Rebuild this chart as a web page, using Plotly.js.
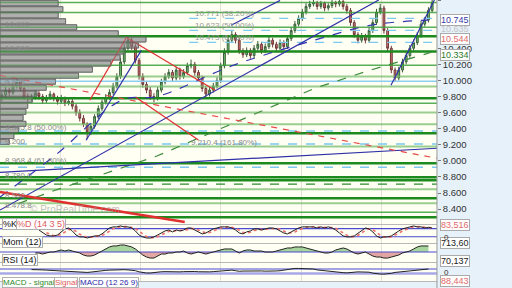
<!DOCTYPE html>
<html><head><meta charset="utf-8">
<script src="https://cdn.plot.ly/plotly-3.0.1.min.js"></script>
<style>html,body{margin:0;padding:0;background:#e6f1fa}#chart{width:512px;height:288px}</style>
</head><body><div id="chart"></div>
<script>
// ---------- price data (candle index 0..116) ----------
const open = [9.78,9.82,9.88,9.85,9.93,9.98,9.90,9.80,9.77,9.79, 9.84,9.80,9.75,9.79,9.83,9.78,9.74,9.78,9.72,9.74, 9.68,9.60,9.53,9.46,9.36,9.43,9.55,9.65,9.73,9.79, 9.85,9.93,10.05,10.23,10.40,10.50,10.42,10.25,10.05,9.95, 9.88,9.80,9.78,9.88,9.98,10.05,10.10,10.03,10.13,10.05, 10.10,10.18,10.20,10.10,10.03,9.90,9.83,9.88,9.93,10.00, 10.18,10.35,10.50,10.57,10.50,10.37,10.32,10.37,10.31,10.40, 10.45,10.37,10.42,10.50,10.45,10.40,10.47,10.42,10.52,10.62, 10.70,10.77,10.85,10.92,10.95,10.97,10.92,10.96,10.90,10.93, 10.97,10.95,10.98,10.92,10.87,10.72,10.57,10.50,10.55,10.50, 10.62,10.72,10.85,10.90,10.62,10.40,10.13,10.03,10.13,10.23, 10.31,10.40,10.47,10.56,10.70,10.75,10.87];
const high = [9.86,9.92,9.91,9.96,10.03,10.00,9.93,9.84,9.83,9.88, 9.87,9.83,9.82,9.87,9.85,9.81,9.82,9.80,9.78,9.77, 9.71,9.64,9.57,9.48,9.47,9.58,9.69,9.76,9.83,9.89, 9.97,10.09,10.28,10.45,10.55,10.53,10.45,10.28,10.09,9.99, 9.92,9.84,9.92,10.02,10.09,10.14,10.13,10.17,10.16,10.14, 10.22,10.26,10.23,10.13,10.06,9.93,9.92,9.97,10.04,10.22, 10.40,10.55,10.62,10.60,10.53,10.40,10.41,10.40,10.44,10.49, 10.48,10.46,10.54,10.53,10.48,10.51,10.50,10.56,10.66,10.74, 10.81,10.89,10.96,10.99,11.00,10.99,10.99,10.98,10.96,11.00, 10.99,11.01,11.00,10.95,10.90,10.75,10.60,10.59,10.58,10.66, 10.76,10.89,10.95,10.93,10.65,10.43,10.16,10.17,10.27,10.35, 10.44,10.51,10.60,10.74,10.79,10.91,11.01];
const low = [9.74,9.78,9.81,9.82,9.90,9.86,9.76,9.73,9.74,9.76, 9.76,9.71,9.72,9.76,9.74,9.70,9.71,9.68,9.69,9.64, 9.56,9.49,9.42,9.27,9.32,9.40,9.52,9.62,9.70,9.76, 9.82,9.90,10.02,10.20,10.37,10.38,10.21,10.01,9.91,9.84, 9.76,9.73,9.75,9.85,9.95,10.02,9.99,10.00,10.01,10.02, 10.07,10.15,10.06,9.99,9.86,9.78,9.80,9.85,9.90,9.97, 10.15,10.32,10.47,10.46,10.33,10.28,10.29,10.27,10.28,10.37, 10.33,10.34,10.39,10.41,10.36,10.37,10.38,10.39,10.49,10.59, 10.67,10.74,10.82,10.89,10.92,10.88,10.89,10.86,10.87,10.90, 10.91,10.92,10.88,10.83,10.68,10.53,10.46,10.47,10.46,10.47, 10.59,10.69,10.82,10.58,10.36,10.09,9.98,10.00,10.10,10.20, 10.28,10.37,10.44,10.53,10.67,10.72,10.84];
const close = [9.82,9.88,9.85,9.93,9.98,9.90,9.80,9.77,9.79,9.84, 9.80,9.75,9.79,9.83,9.78,9.74,9.78,9.72,9.74,9.68, 9.60,9.53,9.46,9.36,9.43,9.55,9.65,9.73,9.79,9.85, 9.93,10.05,10.23,10.40,10.50,10.42,10.25,10.05,9.95,9.88, 9.80,9.78,9.88,9.98,10.05,10.10,10.03,10.13,10.05,10.10, 10.18,10.20,10.10,10.03,9.90,9.83,9.88,9.93,10.00,10.18, 10.35,10.50,10.57,10.50,10.37,10.32,10.37,10.31,10.40,10.45, 10.37,10.42,10.50,10.45,10.40,10.47,10.42,10.52,10.62,10.70, 10.77,10.85,10.92,10.95,10.97,10.92,10.96,10.90,10.93,10.97, 10.95,10.98,10.92,10.87,10.72,10.57,10.50,10.55,10.50,10.62, 10.72,10.85,10.90,10.62,10.40,10.13,10.03,10.13,10.23,10.31, 10.40,10.47,10.56,10.70,10.75,10.87,10.97];

// ---------- indicators ----------
const stochK = [null,null,null,null,null,null,null,null,null,null, 70,48,33,26,26,33,56,78,85,63, 33,19,19,11,19,26,26,41,63,85, 93,93,100,93,93,85,63,33,19,11, 11,19,33,48,63,70,56,70,63,70, 85,85,70,56,41,48,63,78,85,93, 93,93,85,70,48,41,56,63,78,78, 70,78,85,85,78,63,48,41,56,70, 85,93,93,93,93,85,93,85,93,85, 70,48,26,19,19,26,48,70,85,78, 56,26,11,19,19,26,48,63,78,85, 93,100,93,93,85,90,84];
const stochD = [null,null,null,null,null,null,null,null,null,null, null,null,50,36,28,28,38,55,73,75, 60,38,24,16,16,21,24,31,43,63, 80,90,95,95,95,90,80,60,38,21, 14,14,21,33,48,60,63,65,63,68, 73,80,80,70,56,48,51,63,75,85, 90,93,90,83,68,53,48,53,66,73, 75,75,78,83,83,75,63,50,48,56, 70,83,90,93,93,90,90,88,90,88, 83,68,48,31,21,21,31,48,68,78, 73,53,31,19,16,21,31,46,63,76, 85,93,95,95,90,89,86];
const momentum = [null,null,null,null,null,null,null,null,null,-119, -120,-240,-120,0,0,120,240,120,240,120, 0,-120,-360,-480,-480,-360,-120,120,360,600, 720,720,830,830,720,600,360,0,-360,-600, -720,-720,-480,-240,-240,-120,-120,0,0,120, -120,-240,-120,0,-120,-240,-120,0,120,240, 360,360,360,120,-120,120,240,240,120,120, 120,0,0,0,120,240,360,480,480,600, 600,600,480,360,240,120,0,-120,-120,0, 240,360,480,360,120,-120,-240,-120,0,-240, -480,-600,-600,-720,-720,-600,-480,-360,-120,0, 120,360,600,720,720,714,null];
const rsi = [null,null,null,null,null,null,null,null,65,66, 64,62,60,58,56,54,55,53,52,50, 46,44,42,40,43,48,52,55,58,60, 62,64,66,64,62,60,55,45,37,35, 35,40,44,46,47,45,46,44,45,47, 49,50,48,46,44,43,45,47,50,55, 60,62,60,55,50,52,53,52,51,52, 53,51,50,52,53,55,60,68,72,75, 75,74,73,72,70,62,58,55,50,45, 42,40,38,36,40,44,45,44,43,42, 34,28,26,25,26,32,40,44,46,48, 55,60,64,66,68,70,null];

// ---------- volume-by-price profile (left), volume in chart-pixel units ----------
const vpPrice = [10.96,10.885,10.81,10.735,10.66,10.585,10.51,10.435,10.36,10.285,10.21,10.135,10.06,9.985,9.91,9.835,9.76,9.685,9.61,9.535,9.46,9.385,9.31,9.235];
const vpVolume = [63,68,63,71,83,128,158,150,135,130,120,100,85,60,50,40,35,30,28,25,28,20,15,10];

// ---------- horizontal levels ----------
const levelsDark = [10.548,10.36,9.78,9.343,8.97,8.795,8.76,8.535,8.30];
const levelsMedium = [10.97,10.846,10.66,10.19,9.715,8.36];
const levelsLight = [10.05,9.925,9.60,9.455,9.18,8.647,8.473];
const levelsBlueDashed = [9.37,9.21,8.92];
const levelsBlueSolid = [9.99];
const levelsGreenDashed = [8.71];
const fibLevels = [10.771,10.623,10.473];
const fibLabels = ['10.771 (38.20%)','10.623 (50.00%)','10.473 (61.80%)'];
const fibStart = 50.5;

// ---------- trend lines (candle index, price) ----------
const blueLines = [
  {i:[-0.5,117.3], p:[8.858,9.157]},
  {i:[-0.5,101.6], p:[8.388,11.0]},
  {i:[22.7,37.6], p:[9.256,10.374]},
  {i:[61.8,75.0], p:[10.685,10.995]},
  {i:[104.9,116.6], p:[9.94,11.0]}
];
const blueDashedMA = {i:[-0.5,14.4,32.6,41.8,62.5,84.2,99.9,115.0], p:[8.55,9.07,9.76,9.80,10.19,10.50,10.69,10.75]};
const redLines = [
  {i:[23.7,33.6], p:[9.753,10.535]},
  {i:[33.6,57.5], p:[10.535,9.877]},
  {i:[36.1,53.0], p:[9.79,9.26]},
  {i:[-0.5,49.3], p:[8.612,8.239]}
];
const redDashed = [
  {i:[-0.5,117.3], p:[10.063,9.032]}
];
const greenMA = {i:[4.5,14.4,41.8,59.3,76.7,84.2,99.1,115.8], p:[8.47,8.635,9.06,9.405,9.753,9.9,10.125,10.35]};

// ---------- axis labels ----------
const priceTicks = [8.4,8.6,8.8,9.0,9.2,9.4,9.6,9.8,10.0,10.2,10.4,11.0];
const priceTickText = ['8.400','8.600','8.800','9.000','9.200','9.400','9.600','9.800','10.000','10.200','10.400','11.000'];
const monthStarts = [15.7,37.4,59,80.7,102.4];
const lastLabels = [
  {v:10.745, t:'10.745', c:'#3a3aa8', s:1, boxed:true},
  {v:10.635, t:'10.635', c:'#c4c4c4', s:0, boxed:false},
  {v:10.544, t:'10.544', c:'#e06a6a', s:-2, boxed:true},
  {v:10.334, t:'10.334', c:'#2c7a2c', s:-1, boxed:true}
];
const leftLabels = [
  {x:3, p:10.70, t:'10.660'},
  {x:3, p:10.40, t:'10.360'},
  {x:3, p:9.97, t:'9.925'},
  {x:3, p:9.41, t:'9.365.8 (50.00%)'},
  {x:3, p:9.24, t:'9.200'},
  {x:3, p:9.01, t:'8.968.4 (61.80%)'},
  {x:3, p:8.815, t:'8.780.0'},
  {x:3, p:8.575, t:'8.580'},
  {x:3, p:8.45, t:'8.478.8'},
  {x:205, p:9.225, t:'9.210.4 (161.80%)'}
];

const idx = close.map((_, i) => i);
const X0 = -0.5, X1 = 117.3;
const H = 288, W = 512, PW = 473;
const pxPerCandle = PW / (X1 - X0);
const traces = [];
const shapes = [];

// volume profile as horizontal bars on the candle axis, starting at the left edge
traces.push({type:'bar', orientation:'h', y:vpPrice, x:vpVolume.map(v => v / pxPerCandle), base:X0,
  xaxis:'x', yaxis:'y', width:0.064,
  marker:{color:'rgba(186,186,186,0.9)', line:{color:'rgba(112,112,112,0.9)', width:1}}, hoverinfo:'skip'});
// same bins again as translucent shapes drawn above, so the profile stays visible over the chart
const half = 0.032;
vpPrice.forEach((p, k) => shapes.push({type:'rect', xref:'x', yref:'y', x0:X0, x1:X0 + vpVolume[k] / pxPerCandle, y0:p - half, y1:p + half,
  layer:'above', fillcolor:'rgba(150,150,150,0.42)', line:{color:'rgba(100,100,100,0.65)', width:1}}));

function hlines(levels, color, width, dash, x0) {
  const xs = [], ys = [];
  levels.forEach(v => { xs.push(x0 === undefined ? X0 : x0, X1, null); ys.push(v, v, null); });
  traces.push({type:'scatter', mode:'lines', x:xs, y:ys, xaxis:'x', yaxis:'y',
    line:{color:color, width:width, dash:dash||'solid'}, hoverinfo:'skip'});
}
hlines(levelsLight, 'rgba(120,190,110,0.75)', 2);
hlines(levelsMedium, 'rgba(60,160,60,0.85)', 1.5);
hlines(levelsDark, '#1d8a1d', 2.5);
hlines(levelsBlueDashed, '#7cc8f0', 1.5, 'dash');
hlines(levelsBlueSolid, '#8ccdf2', 1.5);
hlines(levelsGreenDashed, '#2a8a2a', 1.2, 'dash');
hlines(fibLevels, '#7cc8f0', 1.3, 'dash', fibStart);

traces.push({type:'scatter', mode:'lines', x:greenMA.i, y:greenMA.p, line:{color:'#3a8a3a', width:1.2, dash:'dash'}, hoverinfo:'skip'});
traces.push({type:'scatter', mode:'lines', x:blueDashedMA.i, y:blueDashedMA.p, line:{color:'#3535b0', width:1.2, dash:'dash', shape:'spline'}, hoverinfo:'skip'});
blueLines.forEach(l => traces.push({type:'scatter', mode:'lines', x:l.i, y:l.p, line:{color:'#3030a8', width:1.2}, hoverinfo:'skip'}));
redLines.forEach((l, k) => traces.push({type:'scatter', mode:'lines', x:l.i, y:l.p, line:{color:'#e03030', width:k===3?2.5:1.2}, hoverinfo:'skip'}));
redDashed.forEach(l => traces.push({type:'scatter', mode:'lines', x:l.i, y:l.p, line:{color:'#e84a4a', width:1.2, dash:'6px,6px'}, hoverinfo:'skip'}));

traces.push({type:'candlestick', x:idx, open:open, high:high, low:low, close:close, xaxis:'x', yaxis:'y',
  whiskerwidth:0,
  increasing:{line:{color:'#3b5e3b', width:1}, fillcolor:'#6fc46f'},
  decreasing:{line:{color:'#6e3b3b', width:1}, fillcolor:'#d86b6b'}, hoverinfo:'skip'});

// indicator panels on x3
traces.push({type:'scatter', mode:'lines', x:[X0,X1], y:[80,80], xaxis:'x3', yaxis:'y2', line:{color:'#4a4ad0', width:1.2}, hoverinfo:'skip'});
traces.push({type:'scatter', mode:'lines', x:[X0,X1], y:[20,20], xaxis:'x3', yaxis:'y2', line:{color:'#4a4ad0', width:1.2}, hoverinfo:'skip'});
traces.push({type:'scatter', mode:'lines', x:idx, y:stochD, xaxis:'x3', yaxis:'y2', line:{color:'#f07070', width:1.6, dash:'dot'}, hoverinfo:'skip'});
traces.push({type:'scatter', mode:'lines', x:idx, y:stochK, xaxis:'x3', yaxis:'y2', line:{color:'#222', width:1}, hoverinfo:'skip'});

const momPos = momentum.map(v => v === null ? null : Math.max(v, 0));
const momNeg = momentum.map(v => v === null ? null : Math.min(v, 0));
traces.push({type:'scatter', mode:'lines', x:idx, y:momPos, xaxis:'x3', yaxis:'y3', fill:'tozeroy', fillcolor:'rgba(120,190,110,0.65)', line:{width:0}, hoverinfo:'skip'});
traces.push({type:'scatter', mode:'lines', x:idx, y:momNeg, xaxis:'x3', yaxis:'y3', fill:'tozeroy', fillcolor:'rgba(210,120,120,0.65)', line:{width:0}, hoverinfo:'skip'});
traces.push({type:'scatter', mode:'lines', x:[X0,X1], y:[0,0], xaxis:'x3', yaxis:'y3', line:{color:'#4a4ad0', width:1.2}, hoverinfo:'skip'});
traces.push({type:'scatter', mode:'lines', x:idx, y:momentum, xaxis:'x3', yaxis:'y3', line:{color:'#222', width:1}, hoverinfo:'skip'});

traces.push({type:'scatter', mode:'lines', x:[X0,X1], y:[70,70], xaxis:'x3', yaxis:'y4', line:{color:'#4a4ad0', width:1.2}, hoverinfo:'skip'});
traces.push({type:'scatter', mode:'lines', x:[X0,X1], y:[30,30], xaxis:'x3', yaxis:'y4', line:{color:'#a8a8e8', width:2.5}, hoverinfo:'skip'});
traces.push({type:'scatter', mode:'lines', x:idx, y:rsi, xaxis:'x3', yaxis:'y4', line:{color:'#222', width:1}, hoverinfo:'skip'});

const py = y => (H - y) / H;
const px = x => X0 + x / pxPerCandle;
const FF = 'Liberation Sans, Arial, sans-serif';
const axFont = {family:FF, size:9.5, color:'#333'};
const annotations = [];
fibLevels.forEach((v, k) => annotations.push({xref:'x', yref:'y', x:fibStart+1, y:v, yshift:5, xanchor:'left', text:fibLabels[k], showarrow:false, font:{family:FF, size:8, color:'#999'}}));
leftLabels.forEach(l => annotations.push({xref:'x', yref:'y', x:px(l.x), y:l.p, xanchor:'left', text:l.t, showarrow:false, font:{family:FF, size:8, color:'#8a8a8a'}}));
lastLabels.forEach(l => annotations.push({xref:'paper', yref:'y', x:(PW+3)/W, y:l.v, yshift:l.s, xanchor:'left', text:l.t, showarrow:false,
  bgcolor:l.boxed?'#ffffff':'rgba(0,0,0,0)', bordercolor:l.boxed?'#aaa':'rgba(0,0,0,0)', borderwidth:1, borderpad:0, font:{family:FF, size:9, color:l.c}}));
const box = (y, t, c) => annotations.push({xref:'paper', yref:'paper', x:(PW+3)/W, y:py(y), xanchor:'left', text:t, showarrow:false, bgcolor:'#fff', bordercolor:'#aaa', borderwidth:1, borderpad:0, font:{family:FF, size:9, color:c}});
box(231, '83,516', '#e06a6a');
box(249, '713,60', '#222');
box(267, '70,137', '#222');
box(287, '88,443', '#e06a6a');
const zero = y => annotations.push({xref:'paper', yref:'paper', x:(PW+5)/W, y:py(y), xanchor:'left', text:'0', showarrow:false, font:{family:FF, size:8, color:'#333'}});
zero(244);
zero(278.5);
const hdr = (x, y, t, c, s) => annotations.push({xref:'paper', yref:'paper', x:x/W, y:py(y), xanchor:'left', text:t, showarrow:false, bgcolor:'#fff', bordercolor:'#b0b0b0', borderwidth:1, borderpad:0, font:{family:FF, size:s||9, color:c}});
hdr(2, 230, '%K', '#111');
hdr(17, 230, '%D (14 3 5)', '#e05a5a');
hdr(2, 248, 'Mom (12)', '#111');
hdr(2, 266, 'RSI (14)', '#111');
hdr(2, 288, 'MACD - signal', '#2a8a2a', 8);
hdr(58, 288, 'Signal', '#e05a5a', 8);
hdr(86, 288, 'MACD (12 26 9)', '#2a2aa8', 8);
annotations.push({xref:'paper', yref:'paper', x:30/W, y:py(217), xanchor:'left', text:'© ProRealTime.com', showarrow:false, font:{family:FF, size:10, color:'rgba(150,150,150,0.6)'}});

[224.5, 243.5, 262.5, 281.5].forEach(y => shapes.push({type:'line', xref:'paper', yref:'paper', x0:0, x1:PW/W, y0:py(y), y1:py(y), line:{color:'#b8b8b8', width:1}}));
shapes.push({type:'line', xref:'paper', yref:'paper', x0:PW/W, x1:PW/W, y0:0, y1:1, line:{color:'#9a9a9a', width:1}});

const xd = [0, PW / W];
const layout = {
  width:W, height:H, margin:{l:0, r:W-PW, t:0, b:0, pad:0},
  paper_bgcolor:'#e6f1fa', plot_bgcolor:'#fffff4', showlegend:false, barmode:'overlay',
  xaxis:{domain:xd, range:[X0, X1], anchor:'y', showticklabels:false, ticks:'', tickvals:monthStarts,
         showgrid:true, gridcolor:'#e2e2d8', zeroline:false, rangeslider:{visible:false}},
  xaxis3:{domain:xd, range:[X0, X1], anchor:'y5', showticklabels:false, ticks:'', tickvals:monthStarts,
          showgrid:true, gridcolor:'#e2e2d8', zeroline:false},
  yaxis:{domain:[py(224), 1], range:[8.215, 11.0], side:'right', anchor:'x', tickvals:priceTicks, ticktext:priceTickText,
         tickfont:axFont, ticks:'outside', ticklen:3, tickcolor:'#777', showgrid:false, zeroline:false},
  yaxis2:{domain:[py(243), py(225)], range:[-26, 107], side:'right', anchor:'x3', showticklabels:false, ticks:'', showgrid:false, zeroline:false},
  yaxis3:{domain:[py(262), py(244)], range:[-1190, 952], side:'right', anchor:'x3', showticklabels:false, ticks:'', showgrid:false, zeroline:false},
  yaxis4:{domain:[py(281), py(263)], range:[-35, 122.5], side:'right', anchor:'x3', showticklabels:false, ticks:'', showgrid:false, zeroline:false},
  yaxis5:{domain:[0, py(282)], range:[0, 1], side:'right', anchor:'x3', showticklabels:false, ticks:'', showgrid:false, zeroline:false},
  annotations:annotations, shapes:shapes
};
Plotly.newPlot('chart', traces, layout, {staticPlot:true, displayModeBar:false});
</script></body></html>
